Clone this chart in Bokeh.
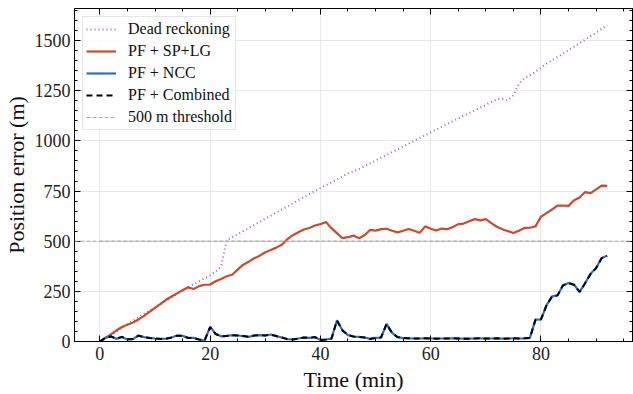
from bokeh.plotting import figure
from bokeh.models import (Range1d, LinearAxis, Span, Legend, LegendItem, ColumnDataSource,
                          FixedTicker, CustomLabelingPolicy)
from bokeh.embed import file_html
from bokeh.resources import INLINE

time_min = list(range(0, 93))

dead_reckoning = [0, 15, 32, 50, 68, 86, 104, 120, 137, 153, 170, 186, 203, 220, 237, 254, 270, 285, 300, 315,
                  330, 348, 375, 505, 520, 535, 550, 566, 581, 596, 612, 627, 643, 658, 673, 689, 704, 719, 735, 750,
                  765, 779, 793, 808, 822, 838, 848, 860, 874, 888, 902, 916, 930, 944, 958, 972, 986, 1000, 1014, 1028,
                  1042, 1056, 1070, 1084, 1098, 1112, 1126, 1140, 1153, 1166, 1180, 1194, 1207, 1210, 1202, 1228, 1285, 1312, 1328, 1345,
                  1365, 1385, 1402, 1418, 1435, 1452, 1470, 1487, 1505, 1522, 1540, 1558, 1578]

pf_sp_lg = [0, 18, 35, 55, 72, 84, 95, 110, 128, 148, 168, 188, 208, 224, 240, 256, 270, 262, 276, 283,
            284, 300, 312, 325, 333, 358, 383, 398, 415, 428, 445, 456, 468, 482, 510, 530, 545, 558, 566, 578,
            585, 596, 565, 540, 515, 520, 528, 515, 530, 556, 553, 560, 562, 552, 544, 552, 561, 552, 542, 574,
            562, 553, 563, 560, 570, 585, 588, 600, 610, 604, 610, 590, 572, 560, 550, 541, 552, 566, 567, 574,
            622, 640, 658, 677, 678, 676, 704, 718, 745, 740, 758, 777, 776]

pf_ncc = [0, 18, 26, 13, 23, 10, 12, 30, 22, 18, 15, 13, 14, 20, 30, 28, 18, 18, 10, 5,
          73, 38, 26, 28, 32, 30, 27, 23, 30, 32, 30, 35, 27, 20, 12, 10, 15, 20, 18, 22,
          8, 10, 14, 106, 56, 32, 25, 23, 20, 13, 18, 20, 88, 43, 22, 17, 16, 15, 15, 16,
          15, 14, 15, 15, 16, 15, 14, 14, 15, 16, 15, 15, 16, 14, 15, 16, 15, 16, 18, 109,
          110, 180, 225, 230, 280, 292, 283, 247, 290, 338, 366, 416, 428]

pf_combined = [0, 18, 25, 14, 23, 11, 12, 29, 22, 18, 15, 13, 14, 20, 29, 28, 18, 17, 10, 6,
               72, 37, 26, 28, 31, 30, 27, 23, 30, 31, 30, 34, 27, 20, 12, 10, 15, 20, 18, 22,
               8, 10, 14, 104, 55, 32, 25, 23, 20, 13, 18, 20, 87, 42, 22, 17, 16, 15, 15, 16,
               15, 14, 15, 15, 16, 15, 14, 14, 15, 16, 15, 15, 16, 14, 15, 16, 15, 16, 18, 108,
               110, 180, 224, 230, 280, 291, 283, 247, 290, 337, 366, 415, 427]

threshold = 500
x_ticks = [0, 20, 40, 60, 80]
y_ticks = [0, 250, 500, 750, 1000, 1250, 1500]

FONT = "Liberation Serif"
C_DR = "#A65FD6"
C_RED = "#CF4A2A"
C_BLUE = "#2A6FC6"

p = figure(width=633, height=394, output_backend="svg", toolbar_location=None,
           x_range=Range1d(-4.6, 96.6), y_range=Range1d(0, 1660),
           min_border_left=73, min_border_right=1, min_border_top=8, min_border_bottom=52)
p.outline_line_color = "black"
p.outline_line_width = 1
p.background_fill_color = "white"
p.border_fill_color = "white"

for ax in (p.xaxis[0], p.yaxis[0]):
    ax.major_tick_in = 6
    ax.major_tick_out = 0
    ax.minor_tick_in = 3
    ax.minor_tick_out = 0
    ax.major_label_text_font = FONT
    ax.major_label_text_font_size = "18px"
    ax.major_label_text_color = "#222222"
    ax.axis_label_text_font = FONT
    ax.axis_label_text_font_size = "22px"
    ax.axis_label_text_font_style = "normal"
    ax.axis_label_text_color = "#111111"
    ax.axis_line_color = "black"

p.xaxis[0].ticker = FixedTicker(ticks=x_ticks, minor_ticks=list(range(-5, 100, 5)))
p.yaxis[0].ticker = FixedTicker(ticks=y_ticks, minor_ticks=list(range(0, 1700, 50)))
p.xaxis[0].axis_label = "Time (min)"
p.yaxis[0].axis_label = "Position error (m)"
p.xaxis[0].major_label_standoff = 5
p.yaxis[0].major_label_standoff = 4
p.xaxis[0].axis_label_standoff = 4
p.yaxis[0].axis_label_standoff = 3

top = LinearAxis(ticker=FixedTicker(ticks=x_ticks, minor_ticks=list(range(-5, 100, 5))))
right = LinearAxis(ticker=FixedTicker(ticks=y_ticks, minor_ticks=list(range(0, 1700, 50))))
for ax in (top, right):
    ax.major_tick_in = 6
    ax.major_tick_out = 0
    ax.minor_tick_in = 3
    ax.minor_tick_out = 0
    ax.major_label_policy = CustomLabelingPolicy(code="return []")
    ax.major_label_text_font_size = "0px"
    ax.major_label_standoff = 0
    ax.axis_line_color = "black"
p.add_layout(top, "above")
p.add_layout(right, "right")

p.xgrid.ticker = FixedTicker(ticks=x_ticks)
p.ygrid.ticker = FixedTicker(ticks=y_ticks)
p.xgrid.grid_line_color = "#e8e8e8"
p.ygrid.grid_line_color = "#e8e8e8"

src = ColumnDataSource(dict(t=time_min, dr=dead_reckoning, sp=pf_sp_lg, ncc=pf_ncc, comb=pf_combined))

span = Span(location=threshold, dimension="width", line_color="#aaaaaa", line_dash="4 2", line_width=1)
p.add_layout(span)

r_thr = p.line(x=[time_min[0], time_min[-1]], y=[threshold, threshold],
               line_color="#aaaaaa", line_dash="4 2", line_width=1)
r_dr = p.line("t", "dr", source=src, line_color=C_DR, line_width=2, line_dash="1 3")
r_sp = p.line("t", "sp", source=src, line_color=C_RED, line_width=2.2)
r_ncc = p.line("t", "ncc", source=src, line_color=C_BLUE, line_width=2.2)
r_comb = p.line("t", "comb", source=src, line_color="black", line_width=2, line_dash="6 4")

legend = Legend(items=[
    LegendItem(label="Dead reckoning", renderers=[r_dr]),
    LegendItem(label="PF + SP+LG", renderers=[r_sp]),
    LegendItem(label="PF + NCC", renderers=[r_ncc]),
    LegendItem(label="PF + Combined", renderers=[r_comb]),
    LegendItem(label="500 m threshold", renderers=[r_thr]),
], location="top_left")
legend.label_text_font = FONT
legend.label_text_font_size = "16px"
legend.label_text_color = "#111111"
legend.border_line_color = "#cccccc"
legend.border_line_width = 1
legend.background_fill_alpha = 0.85
legend.glyph_width = 30
legend.glyph_height = 18
legend.label_height = 18
legend.spacing = 4
legend.padding = 3
legend.margin = 8
legend.label_standoff = 12
p.add_layout(legend)

open("out.html", "w").write(file_html(p, INLINE))
